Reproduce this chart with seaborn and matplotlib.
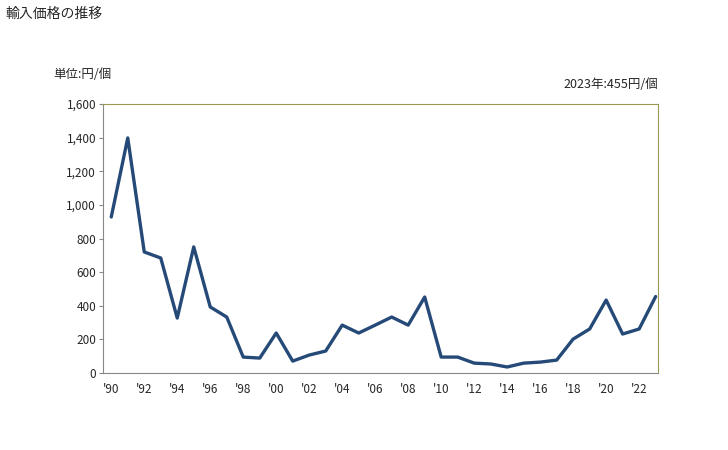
import pandas as pd
import seaborn as sns
import matplotlib.pyplot as plt

years = list(range(1990, 2024))
prices = [928, 1398, 720, 684, 327, 750, 393, 333, 95, 89,
          238, 71, 107, 131, 285, 238, 285, 333, 285, 452,
          95, 95, 59, 54, 36, 59, 65, 77, 202, 262,
          434, 232, 262, 455]
tick_years = list(range(1990, 2023, 2))
tick_labels = ["'%02d" % (y % 100) for y in tick_years]

df = pd.DataFrame({"year": years, "price": prices})

sns.set_style("white")
plt.rcParams['font.family'] = ['Noto Sans CJK JP', 'DejaVu Sans']

fig = plt.figure(figsize=(7.28, 4.5), dpi=100)
ax = fig.add_axes([0.1415, 0.171, 0.7625, 0.598])

sns.lineplot(data=df, x="year", y="price", color="#264a78", linewidth=2.4, ax=ax)

ax.set_xlim(1989.5, 2023.15)
ax.set_ylim(0, 1600)
ax.set_yticks(range(0, 1601, 200))
ax.set_yticklabels([f"{v:,}" for v in range(0, 1601, 200)], fontsize=8.5)
ax.set_xticks(tick_years)
ax.set_xticklabels(tick_labels, fontsize=8.5)
ax.set_xlabel("")
ax.set_ylabel("")

for s in ["left", "bottom"]:
    ax.spines[s].set_color("#888888")
for s in ["top", "right"]:
    ax.spines[s].set_color("#999955")
ax.tick_params(axis="y", left=True, length=3, color="#888888", pad=2)
ax.tick_params(axis="x", bottom=False, pad=4)

fig.text(0.007, 0.968, "輸入価格の推移", fontsize=10, va="center", ha="left")
fig.text(0.073, 0.835, "単位:円/個", fontsize=9, va="center", ha="left")
fig.text(0.904, 0.812, "2023年:455円/個", fontsize=9, va="center", ha="right")

fig.savefig("out.png", dpi=100)
